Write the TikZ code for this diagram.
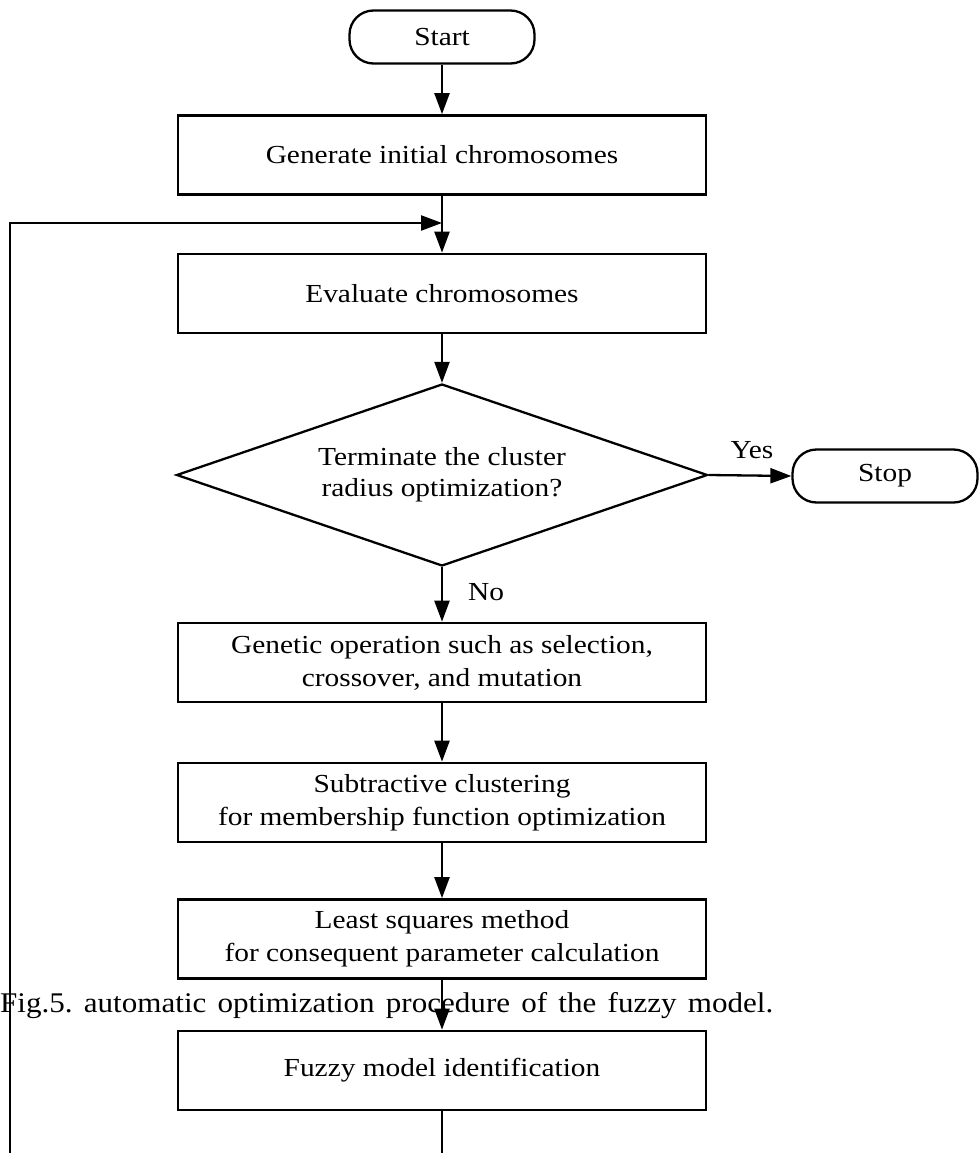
\documentclass[tikz,border=0pt]{standalone}
\usepackage{fontspec}
\setmainfont[FakeStretch=1.13]{Liberation Serif}
\newfontfamily\capfont[FakeStretch=1.09]{Liberation Serif}
\usetikzlibrary{shapes.geometric,arrows.meta}
\frenchspacing
\begin{document}
\begin{tikzpicture}[x=1pt,y=-1pt,
  txt/.style={font=\fontsize{26}{33}\selectfont},
  proc/.style={draw,line width=2.7pt,minimum width=528pt,minimum height=79pt,inner sep=0pt,align=center,txt},
  term/.style={draw,line width=2.3pt,rounded corners=24pt,minimum width=185pt,minimum height=53pt,inner sep=0pt,txt},
  dec/.style={draw,diamond,line width=2.3pt,aspect=2.92,minimum width=531pt,minimum height=182pt,inner sep=0pt,align=center,font=\fontsize{26}{31}\selectfont},
  flow/.style={line width=2.3pt,-{Triangle[length=21pt,width=15pt]}},
  lbl/.style={inner sep=0pt,txt}
]
\useasboundingbox (0,0) rectangle (978,1153);

\node[term] (start) at (442,37) {Start};
\node[proc] (b1) at (442,155) {Generate initial chromosomes};
\node[proc] (b2) at (442,293.5) {Evaluate chromosomes};
\node[dec] (d) at (442,475) {Terminate the cluster\\radius optimization?};
\node[term] (stop) at (885,476) {Stop};
\node[proc] (b3) at (442,662.5) {Genetic operation such as selection,\\crossover, and mutation};
\node[proc] (b4) at (442,802.5) {Subtractive clustering\\for membership function optimization};
\node[proc] (b5) at (442,939) {Least squares method\\for consequent parameter calculation};
\node[proc] (b6) at (442,1070.5) {Fuzzy model identification};

\node[lbl] (yes) at (752,450) {Yes};
\node[lbl] (no) at (486,592) {No};

\node[anchor=base west,inner sep=0pt,font=\capfont\fontsize{28.5}{30}\selectfont] (cap) at (0,1012)
  {\makebox[773pt][s]{Fig.5. automatic optimization procedure of the fuzzy model.}};

\coordinate (join) at (442,223);
\coordinate (loopbot) at (442,1175);
\coordinate (loopleft) at (10,1175);

\draw[flow] (start) -- (b1);
\draw[flow] (b1) -- (b2);
\draw[flow] (b2) -- (d.north);
\draw[flow] (d.east) -- (stop.west);
\draw[flow] (d.south) -- (b3);
\draw[flow] (b3) -- (b4);
\draw[flow] (b4) -- (b5);
\draw[flow] (b5) -- (b6);
\draw[flow] (b6.south) -- (loopbot) -- (loopleft) -- (10,223) -- (join);
\end{tikzpicture}
\end{document}
